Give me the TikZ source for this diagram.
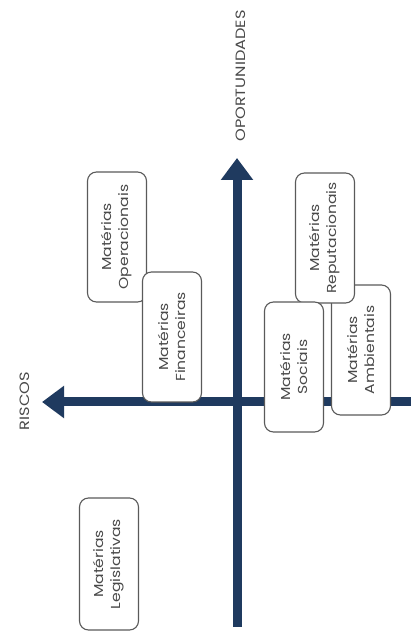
\documentclass[tikz,border=0pt]{standalone}
\usepackage{fontspec}
\setmainfont[FakeStretch=1.2]{Poppins}
\usetikzlibrary{arrows.meta}
\definecolor{axisblue}{HTML}{1F3A5F}
\definecolor{boxgray}{HTML}{5A5A5A}
\definecolor{txtgray}{HTML}{4A4A4A}
\begin{document}
\begin{tikzpicture}[x=1pt,y=1pt,
  axisline/.style={line width=9pt, draw=axisblue, -{Triangle[width=31pt,length=22pt]}},
  matbox/.style={draw=boxgray, line width=1.1pt, fill=white, rounded corners=9pt, rotate=90,
    minimum width=130pt, minimum height=59pt, inner sep=0pt, align=center,
    text=txtgray, font=\fontsize{13}{17}\selectfont},
  axlabel/.style={rotate=90, text=txtgray, font=\fontsize{13.5}{15}\selectfont, inner sep=0pt}]
\useasboundingbox (0,0) rectangle (411,642);
\fill[white] (0,0) rectangle (411,642);
% axes
\coordinate (vb) at (237,15);
\coordinate (vt) at (237,484);
\coordinate (hr) at (411,240);
\coordinate (hl) at (42,240);
\draw[axisline] (vb) -- (vt);
\draw[axisline] (hr) -- (hl);
% labels
\node[axlabel] (oport) at (241,566) {OPORTUNIDADES};
\node[axlabel] (riscos) at (25,241) {RISCOS};
% boxes
\node[matbox] (oper) at (117,405) {Matérias\\Operacionais};
\node[matbox] (fin) at (172,305) {Matérias\\Financeiras};
\node[matbox] (amb) at (361,292) {Matérias\\Ambientais};
\node[matbox] (rep) at (325,404) {Matérias\\Reputacionais};
\node[matbox] (soc) at (294,275) {Matérias\\Sociais};
\node[matbox, minimum width=132pt] (leg) at (109,78) {Matérias\\Legislativas};
\end{tikzpicture}
\end{document}
